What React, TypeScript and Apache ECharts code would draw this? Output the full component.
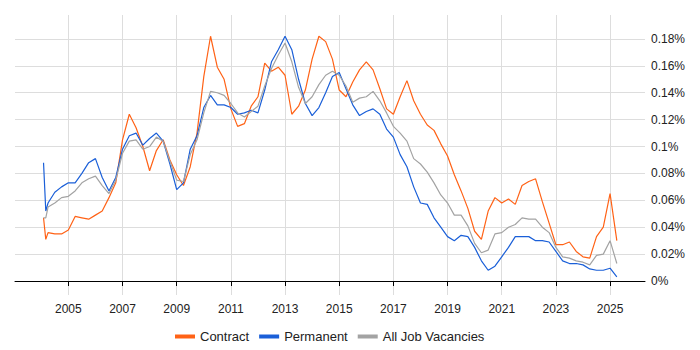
import React, { useEffect, useRef } from "react";
import * as echarts from "echarts";

const dates = [
  "2004-02","2004-03","2004-04","2004-07","2004-10",
  "2005-01","2005-04","2005-07","2005-10",
  "2006-01","2006-04","2006-07","2006-10",
  "2007-01","2007-04","2007-07","2007-10",
  "2008-01","2008-04","2008-07","2008-10",
  "2009-01","2009-04","2009-07","2009-10",
  "2010-01","2010-04","2010-07","2010-10",
  "2011-01","2011-04","2011-07","2011-10",
  "2012-01","2012-04","2012-07","2012-10",
  "2013-01","2013-04","2013-07","2013-10",
  "2014-01","2014-04","2014-07","2014-10",
  "2015-01","2015-04","2015-07","2015-10",
  "2016-01","2016-04","2016-07","2016-10",
  "2017-01","2017-04","2017-07","2017-10",
  "2018-01","2018-04","2018-07","2018-10",
  "2019-01","2019-04","2019-07","2019-10",
  "2020-01","2020-04","2020-07","2020-10",
  "2021-01","2021-04","2021-07","2021-10",
  "2022-01","2022-04","2022-07","2022-10",
  "2023-01","2023-04","2023-07","2023-10",
  "2024-01","2024-04","2024-07","2024-10",
  "2025-01","2025-04",
];

const contract = [
  0.047, 0.031, 0.036, 0.035, 0.035,
  0.038, 0.048, 0.047, 0.046,
  0.049, 0.052, 0.062, 0.073,
  0.105, 0.124, 0.114, 0.100,
  0.082, 0.097, 0.105, 0.090,
  0.079, 0.071, 0.085, 0.110,
  0.152, 0.182, 0.159, 0.150,
  0.128, 0.115, 0.117, 0.130,
  0.137, 0.162, 0.156, 0.159,
  0.153, 0.124, 0.130, 0.142,
  0.165, 0.182, 0.178, 0.165,
  0.142, 0.137, 0.148, 0.157,
  0.163, 0.157, 0.143, 0.128,
  0.124, 0.137, 0.149, 0.134,
  0.124, 0.116, 0.112, 0.102,
  0.093, 0.079, 0.067, 0.054,
  0.037, 0.031, 0.052, 0.062,
  0.058, 0.061, 0.057, 0.071,
  0.074, 0.076, 0.059, 0.043,
  0.027, 0.027, 0.029, 0.022,
  0.018, 0.017, 0.033, 0.040,
  0.065, 0.030,
];

const permanent = [
  0.088, 0.052, 0.058, 0.066, 0.070,
  0.073, 0.073, 0.080, 0.088,
  0.091, 0.077, 0.067, 0.077,
  0.098, 0.108, 0.110, 0.101,
  0.106, 0.110, 0.104, 0.087,
  0.068, 0.073, 0.098, 0.108,
  0.129, 0.138, 0.131, 0.131,
  0.129, 0.124, 0.125, 0.127,
  0.125, 0.142, 0.163, 0.172,
  0.182, 0.172, 0.150, 0.132,
  0.123, 0.129, 0.140, 0.152,
  0.155, 0.143, 0.131, 0.123,
  0.126, 0.128, 0.124, 0.113,
  0.107, 0.094, 0.085, 0.070,
  0.058, 0.057, 0.047, 0.040,
  0.033, 0.030, 0.034, 0.033,
  0.025, 0.015, 0.008, 0.011,
  0.018, 0.025, 0.033, 0.033,
  0.033, 0.030, 0.030, 0.029,
  0.022, 0.015, 0.013, 0.013,
  0.012, 0.009, 0.008, 0.008,
  0.0095, 0.003,
];

const allJobs = [
  0.047, 0.047, 0.055, 0.058, 0.062,
  0.063, 0.067, 0.073, 0.076,
  0.078, 0.071, 0.065, 0.075,
  0.095, 0.104, 0.105, 0.098,
  0.100, 0.107, 0.104, 0.089,
  0.075, 0.074, 0.094, 0.105,
  0.125, 0.141, 0.140, 0.138,
  0.132, 0.125, 0.122, 0.126,
  0.130, 0.145, 0.158, 0.168,
  0.177, 0.163, 0.144, 0.132,
  0.137, 0.146, 0.153, 0.156,
  0.153, 0.145, 0.133, 0.136,
  0.137, 0.141, 0.134, 0.125,
  0.115, 0.110, 0.104, 0.091,
  0.087, 0.081, 0.073, 0.064,
  0.058, 0.049, 0.049, 0.041,
  0.028, 0.021, 0.023, 0.035,
  0.036, 0.040, 0.042, 0.047,
  0.046, 0.046, 0.040, 0.036,
  0.025, 0.018, 0.017, 0.015,
  0.014, 0.012, 0.019, 0.020,
  0.030, 0.013,
];

const yearTicks = [2005, 2007, 2009, 2011, 2013, 2015, 2017, 2019, 2021, 2023, 2025];
const pctTicks = [0, 0.02, 0.04, 0.06, 0.08, 0.1, 0.12, 0.14, 0.16, 0.18];

const toYear = (d: string) => {
  const [y, m] = d.split("-").map(Number);
  return y + (m - 1) / 12;
};

const pairs = (vals: number[]) => dates.map((d, i) => [toYear(d), vals[i]]);

export default function App() {
  const ref = useRef<HTMLDivElement>(null);
  useEffect(() => {
    if (!ref.current) return;
    const chart = echarts.init(ref.current, undefined, { renderer: "svg" });
    const font = "Liberation Sans, Arial, sans-serif";
    chart.setOption({
      animation: false,
      textStyle: { fontFamily: font },
      grid: { left: 15, right: 55, top: 15, bottom: 55, containLabel: false },
      legend: {
        top: 325,
        left: 170,
        icon: "rect",
        itemWidth: 20,
        itemHeight: 4,
        itemGap: 10,
        textStyle: { fontSize: 13, color: "#222", fontFamily: font },
        data: ["Contract", "Permanent", "All Job Vacancies"],
      },
      xAxis: {
        type: "value",
        min: 2003.03,
        max: 2026.29,
        axisLine: { show: true, lineStyle: { color: "#000", width: 1 } },
        axisTick: { show: true, length: 5, lineStyle: { color: "#000" }, customValues: yearTicks },
        axisLabel: {
          customValues: yearTicks,
          formatter: (v: number) => String(Math.round(v)),
          fontSize: 12,
          color: "#222",
          margin: 8,
          fontFamily: font,
        },
        splitLine: { show: true, lineStyle: { color: "#ddd", width: 1 } },
      },
      yAxis: {
        type: "value",
        position: "right",
        min: -0.0104,
        max: 0.1978,
        axisLine: { show: false },
        axisTick: { show: false, customValues: pctTicks },
        axisLabel: {
          customValues: pctTicks,
          formatter: (v: number) => Number(v.toFixed(2)) + "%",
          fontSize: 12,
          color: "#222",
          margin: 6,
          fontFamily: font,
        },
        splitLine: { show: true, lineStyle: { color: "#ddd", width: 1 } },
      },
      series: [
        {
          name: "Contract",
          type: "line",
          data: pairs(contract),
          showSymbol: false,
          lineStyle: { color: "#ff6216", width: 1.2 },
          itemStyle: { color: "#ff6216" },
        },
        {
          name: "Permanent",
          type: "line",
          data: pairs(permanent),
          showSymbol: false,
          lineStyle: { color: "#1a5fd8", width: 1.2 },
          itemStyle: { color: "#1a5fd8" },
        },
        {
          name: "All Job Vacancies",
          type: "line",
          data: pairs(allJobs),
          showSymbol: false,
          lineStyle: { color: "#a3a3a3", width: 1.2 },
          itemStyle: { color: "#a3a3a3" },
        },
      ],
    });
    return () => chart.dispose();
  }, []);
  return <div ref={ref} style={{ width: 700, height: 350, position: "absolute", left: 0, top: 0 }} />;
}
